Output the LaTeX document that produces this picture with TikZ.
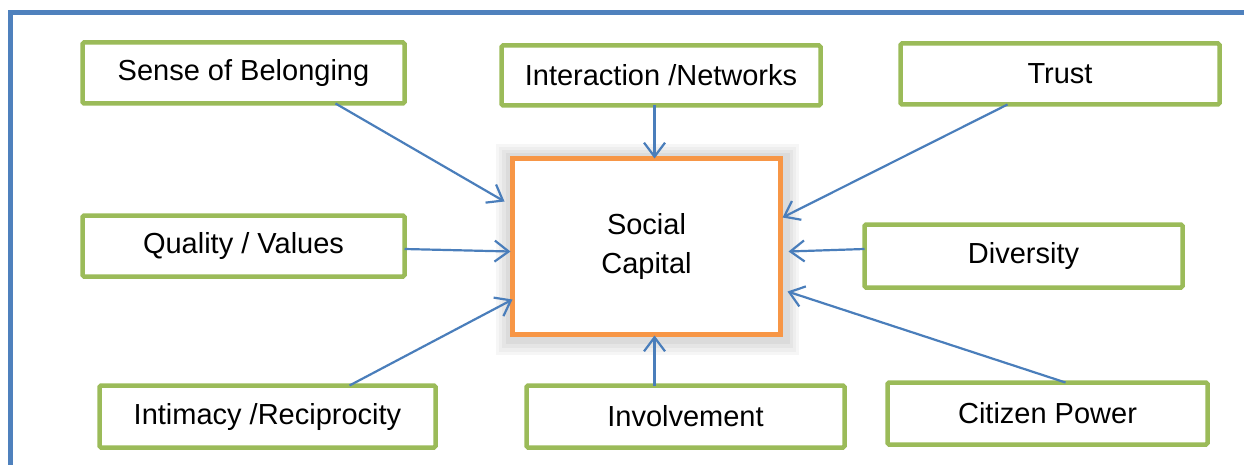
\documentclass[tikz,border=0pt]{standalone}
\usepackage{fontspec}
\setmainfont{Liberation Sans}
\usetikzlibrary{arrows.meta,calc}
\definecolor{frameblue}{HTML}{4F81BD}
\definecolor{boxgreen}{HTML}{9BBB59}
\definecolor{boxorange}{HTML}{F79646}
\definecolor{arrblue}{HTML}{4A7EBB}
\tikzset{
  factor/.style={draw=boxgreen, line width=4.5pt, rounded corners=1.5pt, fill=white,
    inner sep=0pt, outer sep=0pt, font=\fontsize{29}{34}\selectfont, align=center},
  core/.style={draw=boxorange, line width=5pt, fill=white, inner sep=0pt, outer sep=0pt,
    font=\fontsize{29}{39}\selectfont, align=center,
    minimum width=268pt, minimum height=176pt},
  arr/.style={draw=arrblue, line width=2.2pt, -{Straight Barb[length=14pt,width=21pt]}},
}
\begin{document}
\begin{tikzpicture}[x=1pt,y=-1pt]
\useasboundingbox (0,0) rectangle (1244,465);
% frame
\draw[frameblue, line width=5pt] (10.5,465) -- (10.5,13) -- (1244,13);
% soft shadow of central box
\fill[gray!7] (496,144) rectangle (799,355);
\fill[gray!13] (499,147) rectangle (796,352);
\fill[gray!20] (502,150) rectangle (793,348);
\fill[gray!28] (506,153) rectangle (790,344);
% nodes
\node[core] (sc) at (646.5,246.5) {Social\\Capital};
\node[factor, minimum width=322pt, minimum height=61pt] (sense) at (243.5,73) {Sense of Belonging};
\node[factor, minimum width=319pt, minimum height=60pt] (inter) at (661,75.5) {Interaction /Networks};
\node[factor, minimum width=319pt, minimum height=61pt] (trust) at (1060,74) {Trust};
\node[factor, minimum width=322pt, minimum height=61pt] (qual) at (243.5,246) {Quality / Values};
\node[factor, minimum width=318pt, minimum height=63pt] (div) at (1023.5,256) {Diversity};
\node[factor, minimum width=336pt, minimum height=62pt] (inti) at (267.5,416.5) {Intimacy /Reciprocity};
\node[factor, minimum width=318pt, minimum height=62pt] (invo) at (685.5,416.5) {Involvement};
\node[factor, minimum width=320pt, minimum height=62pt] (citi) at (1047.5,413.5) {Citizen Power};
% connector end points
\coordinate (sA) at ($(sense.south west)+(253,0)$);
\coordinate (sB) at ($(sc.north west)+(-8,43)$);
\coordinate (iA) at ($(inter.south west)+(153,0)$);
\coordinate (iB) at ($(sc.north west)+(142,0)$);
\coordinate (tA) at ($(trust.south west)+(107,0)$);
\coordinate (tB) at ($(sc.north east)+(2,59)$);
\coordinate (qA) at ($(qual.east)+(0,3)$);
\coordinate (qB) at ($(sc.north west)+(-2,93)$);
\coordinate (dA) at ($(div.west)+(0,-7)$);
\coordinate (dB) at ($(sc.north east)+(8,93)$);
\coordinate (nA) at ($(inti.north west)+(250,0)$);
\coordinate (nB) at ($(sc.north west)+(0,141)$);
\coordinate (vA) at ($(invo.north west)+(128,0)$);
\coordinate (vB) at ($(sc.south west)+(142,1)$);
\coordinate (cA) at ($(citi.north west)+(178,0)$);
\coordinate (cB) at ($(sc.north east)+(7,133)$);
% connectors
\draw[arr] (sA) -- (sB);
\draw[arr] (iA) -- (iB);
\draw[arr] (tA) -- (tB);
\draw[arr] (qA) -- (qB);
\draw[arr] (dA) -- (dB);
\draw[arr] (nA) -- (nB);
\draw[arr] (vA) -- (vB);
\draw[arr] (cA) -- (cB);
\end{tikzpicture}
\end{document}
